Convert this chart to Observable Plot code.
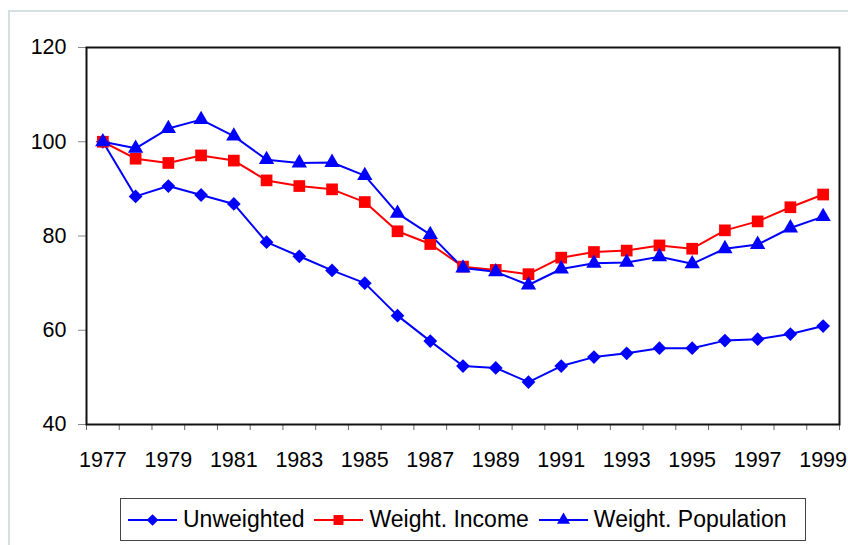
<!DOCTYPE html>
<html>
<head>
<meta charset="utf-8">
<script src="https://cdn.jsdelivr.net/npm/d3@7"></script>
<script src="https://cdn.jsdelivr.net/npm/@observablehq/plot@0.6"></script>
<style>
  html, body { margin: 0; padding: 0; background: #fff; overflow: hidden; }
  body { width: 848px; height: 545px; position: relative; font-family: Arial, "Liberation Sans", sans-serif; }
  #outer { position: absolute; left: 8px; top: 10px; width: 900px; height: 600px; border: 2px solid #d5dfe1; box-sizing: border-box; }
  #chart { position: absolute; left: 0; top: 0; }
  #legend { position: absolute; left: 120px; top: 498px; width: 686px; height: 43px; border: 1.5px solid #444; box-sizing: border-box; background: #fff;
            display: flex; align-items: center; font-size: 23px; color: #000; }
  .item { display: flex; align-items: center; }
  .item svg { display: block; }
</style>
</head>
<body>
<div id="outer"></div>
<div id="chart"></div>
<div id="legend"></div>
<script>
const years = [1977,1978,1979,1980,1981,1982,1983,1984,1985,1986,1987,1988,1989,1990,1991,1992,1993,1994,1995,1996,1997,1998,1999];
const unweighted = [100,88.4,90.6,88.7,86.8,78.7,75.7,72.7,70.0,63.1,57.7,52.4,52.0,49.0,52.4,54.3,55.1,56.2,56.2,57.8,58.1,59.2,60.9];
const weightIncome = [100,96.4,95.5,97.1,96.0,91.8,90.6,89.9,87.2,81.0,78.3,73.5,72.8,71.9,75.4,76.6,76.9,78.0,77.3,81.2,83.1,86.1,88.8];
const weightPopulation = [100,98.6,102.8,104.7,101.2,96.2,95.5,95.6,92.8,84.8,80.3,73.2,72.4,69.6,73.0,74.2,74.4,75.6,74.1,77.3,78.2,81.7,84.1];
const seriesNames = ["Unweighted", "Weight. Income", "Weight. Population"];
const yTicks = [40, 60, 80, 100, 120];
const xLabelYears = [1977,1979,1981,1983,1985,1987,1989,1991,1993,1995,1997,1999];

const colors = {"Unweighted": "#0000ff", "Weight. Income": "#ff0000", "Weight. Population": "#0000ff"};
const symbols = {"Unweighted": "diamond2", "Weight. Income": "square", "Weight. Population": "triangle"};
const radii = {"Unweighted": 6.2, "Weight. Income": 6.6, "Weight. Population": 5.7};

const rows = [];
const seriesVals = [unweighted, weightIncome, weightPopulation];
seriesNames.forEach((s, i) => years.forEach((y, j) => rows.push({series: s, year: y, value: seriesVals[i][j]})));

const boundaries = d3.range(years.length + 1).map(i => years[0] - 0.5 + i);

const marks = [
  Plot.axisY({ticks: yTicks, tickSize: 8, tickPadding: 12, stroke: "#888", fontSize: 21.5, fill: "#000", label: null, tickFormat: d => d}),
  Plot.axisX({ticks: boundaries, tickSize: 6, stroke: "#666", tickFormat: () => "", label: null}),
  Plot.axisX({ticks: xLabelYears, tickSize: 0, tickPadding: 27, fontSize: 21.5, fill: "#000", label: null, tickFormat: d => String(d)}),
  Plot.frame({stroke: "#111", strokeWidth: 2})
];
seriesNames.forEach(s => {
  const d = rows.filter(r => r.series === s);
  marks.push(Plot.line(d, {x: "year", y: "value", stroke: colors[s], strokeWidth: 2}));
});
seriesNames.forEach(s => {
  const d = rows.filter(r => r.series === s);
  marks.push(Plot.dot(d, {x: "year", y: "value", fill: colors[s], stroke: "none", symbol: symbols[s], r: radii[s]}));
});

const chart = Plot.plot({
  width: 848,
  height: 490,
  marginLeft: 86,
  marginRight: 9,
  marginTop: 47,
  marginBottom: 66,
  style: {background: "transparent", fontFamily: "Arial, 'Liberation Sans', sans-serif", overflow: "visible"},
  x: {type: "linear", domain: [years[0] - 0.5, years[years.length - 1] + 0.5]},
  y: {domain: [40, 120]},
  marks
});
document.getElementById("chart").appendChild(chart);

// legend
const legend = document.getElementById("legend");
const gaps = [7, 10, 10];
seriesNames.forEach((s, i) => {
  const item = document.createElement("div");
  item.className = "item";
  item.style.marginLeft = gaps[i] + "px";
  const sw = d3.create("svg").attr("width", 49).attr("height", 24);
  sw.append("line").attr("x1", 0).attr("x2", 49).attr("y1", 12).attr("y2", 12).attr("stroke", colors[s]).attr("stroke-width", 2);
  const symMap = {diamond2: d3.symbolDiamond2, square: d3.symbolSquare, triangle: d3.symbolTriangle};
  const r = radii[s] * 0.85;
  sw.append("path").attr("transform", "translate(24.5,12)")
    .attr("d", d3.symbol(symMap[symbols[s]], Math.PI * r * r)())
    .attr("fill", colors[s]);
  item.appendChild(sw.node());
  const t = document.createElement("span");
  t.textContent = s;
  t.style.marginLeft = "6px";
  item.appendChild(t);
  legend.appendChild(item);
});
</script>
</body>
</html>
